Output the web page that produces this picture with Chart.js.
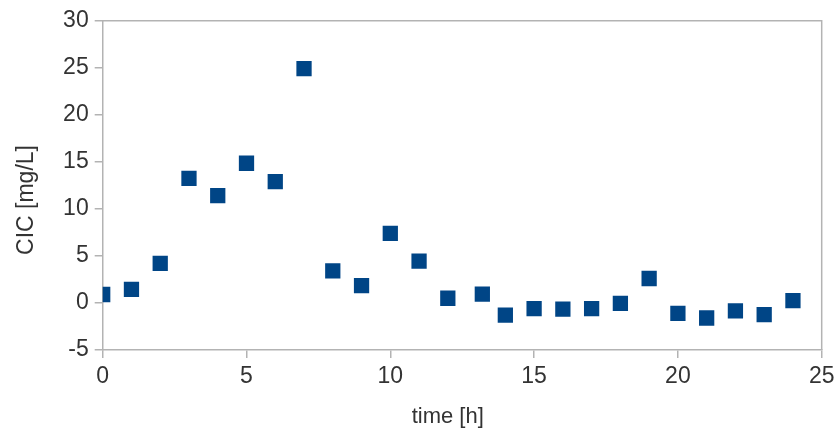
<!DOCTYPE html>
<html>
<head>
<meta charset="utf-8">
<script src="https://cdn.jsdelivr.net/npm/chart.js@4/dist/chart.umd.min.js"></script>
<style>
  html, body { margin: 0; padding: 0; background: #ffffff; }
  #wrap { width: 837px; height: 432px; }
</style>
</head>
<body>
<div id="wrap"><canvas id="c" width="837" height="432"></canvas></div>
<script>
// Sampling times [h] and measured CIC [mg/L]
const timeHours = [0, 1, 2, 3, 4, 5, 6, 7, 8, 9, 10, 11, 12, 13.2, 14, 15, 16, 17, 18, 19, 20, 21, 22, 23, 24];
const cicValues = [0.9, 1.45, 4.2, 13.25, 11.4, 14.85, 12.9, 24.9, 3.4, 1.85, 7.4, 4.45, 0.5, 0.95, -1.3, -0.6, -0.65, -0.6, -0.05, 2.6, -1.1, -1.6, -0.85, -1.25, 0.25];
const xTitle = 'time [h]';
const yTitle = 'CIC [mg/L]';

const points = timeHours.map((t, i) => ({ x: t, y: cicValues[i] }));

const axisGray = '#b3b3b3';
const textColor = '#333333';
const fontFamily = '"Liberation Sans", Arial, sans-serif';

// Frame around the plot area plus the two axis titles
const frameAndTitles = {
  id: 'frameAndTitles',
  beforeDatasetsDraw(chart) {
    const { ctx, chartArea: a } = chart;
    ctx.save();
    ctx.strokeStyle = axisGray;
    ctx.lineWidth = 1.5;
    ctx.beginPath();
    ctx.moveTo(a.left, a.top);
    ctx.lineTo(a.right, a.top);
    ctx.lineTo(a.right, a.bottom);
    ctx.stroke();
    ctx.restore();
  },
  afterDraw(chart) {
    const { ctx, chartArea: a } = chart;
    ctx.save();
    ctx.fillStyle = textColor;
    ctx.textAlign = 'center';
    ctx.textBaseline = 'middle';
    ctx.font = '22px ' + fontFamily;
    ctx.fillText(xTitle, a.left + 345, 417);
    ctx.font = '23px ' + fontFamily;
    ctx.translate(27, 200);
    ctx.rotate(-Math.PI / 2);
    ctx.fillText(yTitle, 0, 0);
    ctx.restore();
  }
};

new Chart(document.getElementById('c'), {
  type: 'scatter',
  data: {
    datasets: [{
      data: points,
      backgroundColor: '#004586',
      borderColor: '#004586',
      borderWidth: 0,
      pointStyle: 'rect',
      pointRadius: 10.8,
      pointHoverRadius: 10.8
    }]
  },
  options: {
    responsive: false,
    animation: false,
    events: [],
    layout: { padding: { top: 20.7, right: 15.3, left: 0, bottom: 0 } },
    plugins: { legend: { display: false }, tooltip: { enabled: false } },
    scales: {
      x: {
        type: 'linear',
        min: 0, max: 25,
        ticks: { stepSize: 5, color: textColor, font: { family: fontFamily, size: 23 }, padding: 5, maxRotation: 0 },
        grid: { drawOnChartArea: false, drawTicks: true, tickLength: 8, color: axisGray, lineWidth: 1.5 },
        border: { display: true, color: axisGray, width: 1.5 },
        afterFit(s) { s.height = 82; s.paddingLeft = 0; s.paddingRight = 0; }
      },
      y: {
        type: 'linear',
        min: -5, max: 30,
        ticks: { stepSize: 5, color: textColor, font: { family: fontFamily, size: 23 }, padding: 6 },
        grid: { drawOnChartArea: false, drawTicks: true, tickLength: 8, color: axisGray, lineWidth: 1.5 },
        border: { display: true, color: axisGray, width: 1.5 },
        afterFit(s) { s.width = 102.7; s.paddingTop = 0; s.paddingBottom = 0; }
      }
    }
  },
  plugins: [frameAndTitles]
});
</script>
</body>
</html>
